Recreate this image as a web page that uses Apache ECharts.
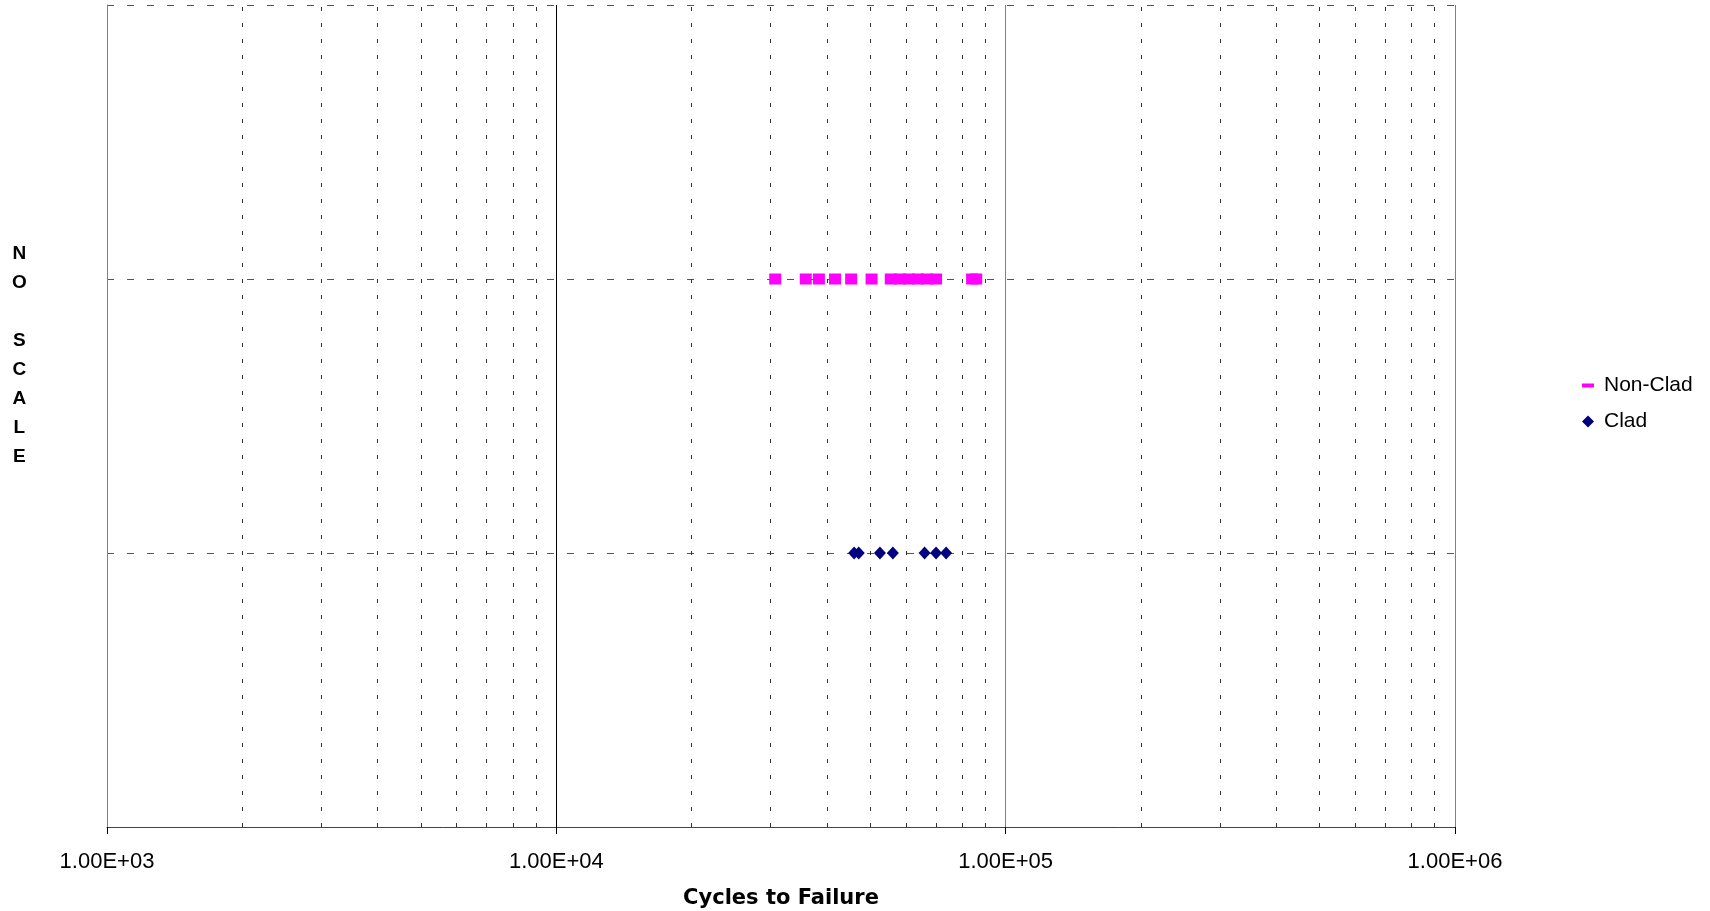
<!DOCTYPE html>
<html>
<head>
<meta charset="utf-8">
<script src="https://cdn.jsdelivr.net/npm/echarts@6/dist/echarts.min.js"></script>
<style>
html,body{margin:0;padding:0;background:#fff;}
#chart{width:1710px;height:911px;}
</style>
</head>
<body>
<div id="chart"></div>
<script>
// Data
const nonCladCycles = [30700, 35900, 38400, 41700, 45300, 50300, 55500, 58200, 60900, 63800, 66800, 70000, 84200, 86000];
const cladCycles = [46000, 47100, 52500, 56100, 66000, 70000, 73700];
const nonCladLevel = 2;
const cladLevel = 1;
const majorTickValues = [1000, 10000, 100000, 1000000];
const majorTickLabels = ["1.00E+03", "1.00E+04", "1.00E+05", "1.00E+06"];
const minorGridValues = [
  2000, 3000, 4000, 5000, 6000, 7000, 8000, 9000,
  20000, 30000, 40000, 50000, 60000, 70000, 80000, 90000,
  200000, 300000, 400000, 500000, 600000, 700000, 800000, 900000
];
const seriesNames = ["Non-Clad", "Clad"];
const xTitle = "Cycles to Failure";
const yTitle = "N\nO\n\nS\nC\nA\nL\nE";

const labelMap = {};
majorTickValues.forEach((v, i) => { labelMap[v] = majorTickLabels[i]; });

const chart = echarts.init(document.getElementById('chart'), null, {renderer: 'canvas'});
chart.setOption({
  animation: false,
  backgroundColor: '#ffffff',
  grid: {left: 107, top: 5, width: 1348, height: 822, containLabel: false, outerBoundsMode: 'none'},
  legend: {
    orient: 'vertical',
    left: 1577,
    top: 370,
    itemGap: 15,
    itemWidth: 12,
    itemHeight: 12,
    textStyle: {fontFamily: 'Liberation Sans', fontSize: 21, color: '#000', padding: [0, 0, 0, 5]},
    data: [
      {name: seriesNames[0], icon: 'path://M0,4 L12,4 L12,8 L0,8 Z'},
      {name: seriesNames[1], icon: 'diamond'}
    ]
  },
  xAxis: {
    type: 'log',
    logBase: 10,
    min: 1000,
    max: 1000000,
    name: xTitle,
    nameLocation: 'middle',
    nameGap: 61,
    nameTextStyle: {fontFamily: 'DejaVu Sans', fontWeight: 'bold', fontSize: 21, color: '#000'},
    axisLine: {show: true, onZero: false, lineStyle: {color: '#444', width: 1}},
    axisTick: {show: true, inside: false, length: 7, lineStyle: {color: '#000'}},
    axisLabel: {
      fontFamily: 'Liberation Sans', fontSize: 22, color: '#000', margin: 24,
      formatter: function (v) { return labelMap[Math.round(v)] || ''; }
    },
    splitLine: {show: true, lineStyle: {color: ['#808080', '#000', '#000', '#808080'], width: 1, type: 'solid'}}
  },
  yAxis: {
    type: 'value',
    min: 0,
    max: 3,
    interval: 1,
    axisLine: {show: true, lineStyle: {color: '#808080', width: 1}},
    axisTick: {show: false},
    axisLabel: {show: false},
    splitLine: {show: true, lineStyle: {color: '#555', width: 1, type: [7, 13]}}
  },
  graphic: [{
    type: 'text',
    left: 12,
    top: 239,
    style: {
      text: yTitle,
      fontFamily: 'Liberation Sans',
      fontWeight: 'bold',
      fontSize: 19,
      lineHeight: 29,
      fill: '#000',
      textAlign: 'center'
    }
  }],
  series: [
    {
      name: 'minor-grid',
      type: 'line',
      data: [],
      silent: true,
      z: 1,
      markLine: {
        silent: true,
        symbol: 'none',
        label: {show: false},
        lineStyle: {color: '#333', width: 1, type: [4, 12]},
        data: minorGridValues.map(v => ({xAxis: v}))
      }
    },
    {
      name: seriesNames[0],
      type: 'scatter',
      symbol: 'rect',
      symbolSize: [12, 11],
      itemStyle: {color: '#FF00FF', opacity: 1},
      data: nonCladCycles.map(v => [v, nonCladLevel]),
      z: 10
    },
    {
      name: seriesNames[1],
      type: 'scatter',
      symbol: 'diamond',
      symbolSize: [12, 13],
      itemStyle: {color: '#000080', opacity: 1},
      data: cladCycles.map(v => [v, cladLevel]),
      z: 10
    }
  ]
});
</script>
</body>
</html>
